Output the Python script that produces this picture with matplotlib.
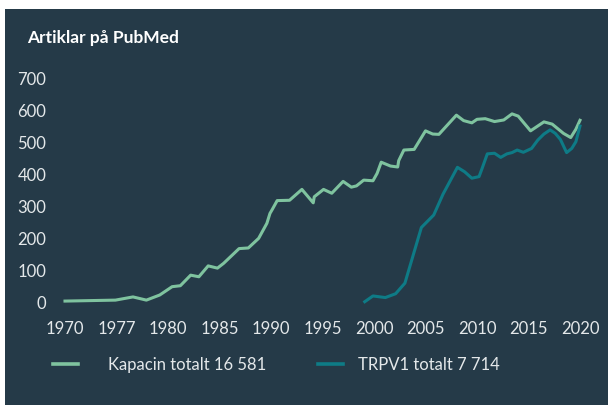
import matplotlib
matplotlib.use("Agg")
import matplotlib.pyplot as plt
from matplotlib.patches import Rectangle

# ---- data (x = position on the axis) ----
kap_x = [1970.0, 1974.9, 1976.6, 1977.9, 1979.2, 1980.4, 1981.2, 1982.2, 1983.0, 1983.9,
         1984.8, 1985.4, 1986.9, 1987.8, 1988.8, 1989.6, 1989.9, 1990.1, 1990.6, 1991.8,
         1993.0, 1994.1, 1994.2, 1995.1, 1995.9, 1997.0, 1997.8, 1998.3, 1999.0, 1999.9,
         2000.3, 2000.7, 2001.6, 2002.3, 2002.4, 2002.9, 2003.9, 2005.0, 2005.7, 2006.3,
         2008.0, 2008.7, 2009.5, 2010.0, 2010.8, 2011.7, 2012.6, 2013.4, 2014.0, 2015.2,
         2016.5, 2017.3, 2018.4, 2019.1, 2019.6, 2020.0]
kap_y = [6, 9, 19, 9, 25, 51, 54, 87, 82, 116,
         109, 124, 170, 172, 202, 249, 280, 291, 320, 321,
         355, 313, 332, 355, 343, 380, 362, 366, 384, 382,
         405, 440, 428, 425, 445, 478, 480, 538, 528, 527,
         587, 570, 563, 574, 576, 567, 572, 591, 584, 538,
         566, 559, 530, 517, 543, 571]

trp_x = [1999.1, 1999.9, 2001.1, 2002.1, 2003.0, 2004.6, 2005.8, 2006.7, 2008.1, 2008.8,
         2009.5, 2010.2, 2010.5, 2011.0, 2011.7, 2012.3, 2012.9, 2013.4, 2013.9, 2014.5,
         2015.3, 2015.9, 2016.5, 2017.1, 2017.6, 2018.1, 2018.7, 2019.2, 2019.6, 2020.0]
trp_y = [4, 22, 17, 29, 62, 236, 275, 340, 424, 410,
         390, 395, 421, 466, 468, 455, 466, 470, 478, 471,
         483, 509, 528, 541, 530, 511, 470, 483, 504, 553]

x_ticks = [1970, 1975, 1980, 1985, 1990, 1995, 2000, 2005, 2010, 2015, 2020]
x_labels = ["1970", "1977", "1980", "1985", "1990", "1995", "2000", "2005", "2010", "2015", "2020"]
y_ticks = [0, 100, 200, 300, 400, 500, 600, 700]

title = "Artiklar på PubMed"
kap_label = "Kapacin totalt 16 581"
trp_label = "TRPV1 totalt 7 714"

# ---- style ----
BG = "#253a48"
TXT = "#e4e8ea"
C_KAP = "#7fc39f"
C_TRP = "#0e7b86"
plt.rcParams["font.family"] = ["Lato", "DejaVu Sans"]

W, H = 608, 405
fig = plt.figure(figsize=(W / 100, H / 100), dpi=100)
fig.patch.set_facecolor("white")
fig.patches.append(Rectangle((5 / W, 0), 1 - 5 / W, 1 - 9 / H, transform=fig.transFigure,
                             facecolor=BG, edgecolor="none", zorder=-10))

# axes placed so that 1970 -> 65px, 2020 -> 580px, 0 -> 303px, 700 -> 79px
pxu = (580 - 65) / 50.0
x0, x1 = 1968, 2022
L = 65 - (1970 - x0) * pxu
R = 580 + (x1 - 2020) * pxu
y0, y1 = -20, 720
pyu = (303 - 79) / 700.0
B = 303 + (0 - y0) * pyu
T = 79 - (y1 - 700) * pyu
ax = fig.add_axes([L / W, 1 - B / H, (R - L) / W, (B - T) / H])
ax.set_facecolor("none")
ax.set_xlim(x0, x1)
ax.set_ylim(y0, y1)

l1, = ax.plot(kap_x, kap_y, color=C_KAP, lw=2.2, solid_joinstyle="round", label=kap_label)
l2, = ax.plot(trp_x, trp_y, color=C_TRP, lw=2.2, solid_joinstyle="round", label=trp_label)

for s in ax.spines.values():
    s.set_visible(False)
ax.set_xticks(x_ticks)
ax.set_xticklabels(x_labels)
ax.set_yticks(y_ticks)
ax.tick_params(axis="both", length=0, colors=TXT, labelsize=12)
ax.tick_params(axis="y", pad=-1.5)
ax.tick_params(axis="x", pad=8)

fig.text(27 / W, 1 - 38 / H, title, color="white", fontsize=12.5, fontweight="bold",
         ha="left", va="center")

def add_legend(handle, x_px, textpad):
    leg = fig.legend(handles=[handle], loc="center left",
                     bbox_to_anchor=(x_px / W, 1 - 365 / H), frameon=False,
                     fontsize=12, handlelength=1.5, handletextpad=textpad,
                     borderpad=0, borderaxespad=0)
    for t in leg.get_texts():
        t.set_color(TXT)
    for h in leg.legend_handles:
        h.set_linewidth(2.6)
    return leg

add_legend(l1, 53, 1.8)
add_legend(l2, 318, 0.9)

fig.savefig("out.png", dpi=100, facecolor=fig.get_facecolor())
